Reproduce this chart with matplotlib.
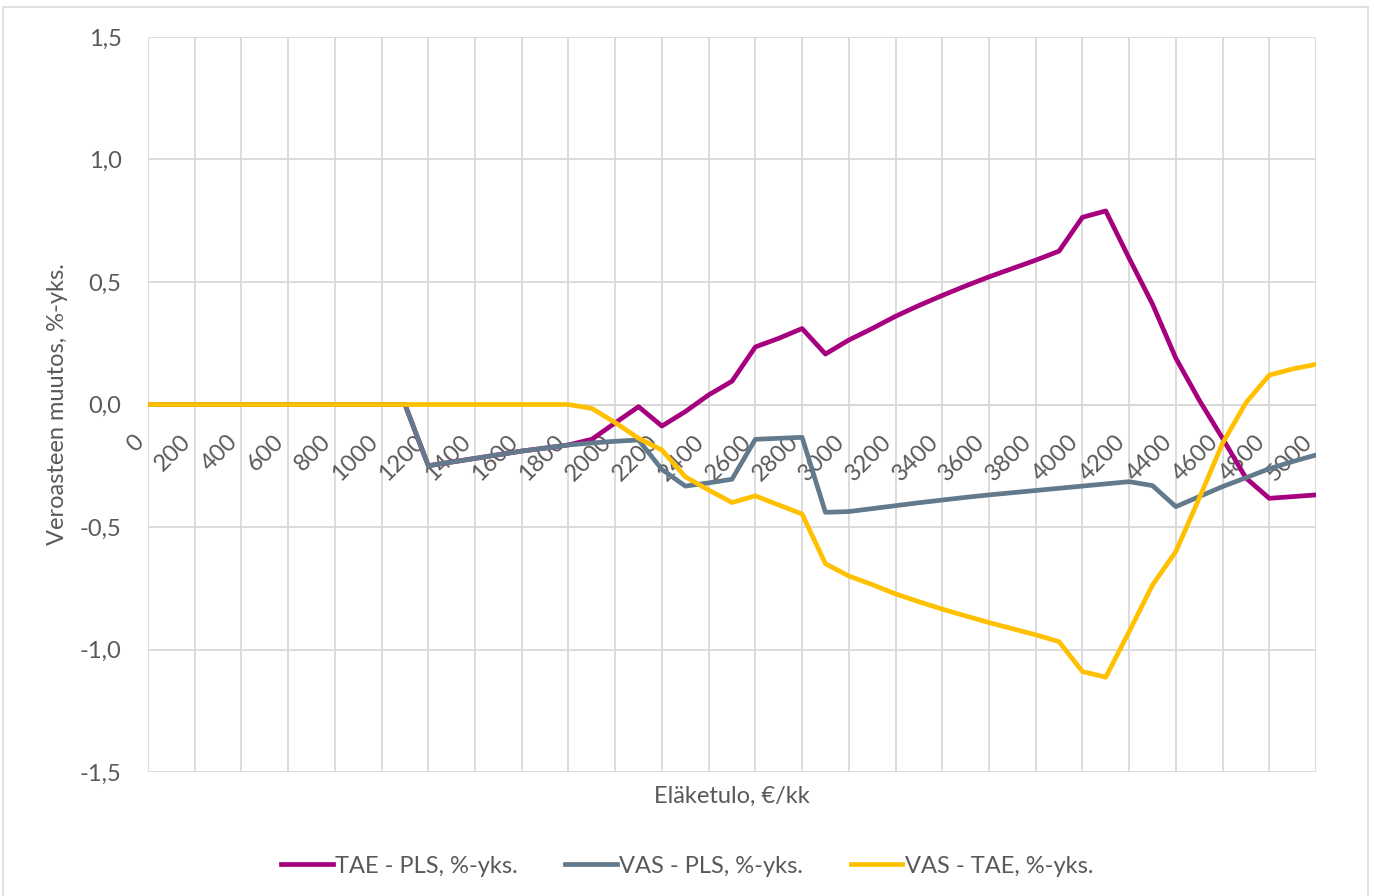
import matplotlib
matplotlib.use("Agg")
import matplotlib.pyplot as plt
from matplotlib.patches import Rectangle
from matplotlib.ticker import FuncFormatter

# eläketulo €/kk, 0..5000 step 100
income = list(range(0, 5001, 100))

tae_pls = [0.0] * 12 + [
    -0.25, -0.235, -0.22, -0.205, -0.19, -0.178, -0.165,          # 1200-1800
    -0.142, -0.075, -0.009, -0.088, -0.029, 0.039, 0.095,         # 1900-2500
    0.235, 0.27, 0.31, 0.206, 0.263, 0.31, 0.36, 0.404, 0.445,    # 2600-3400
    0.484, 0.521, 0.555, 0.589, 0.626, 0.764, 0.79, 0.597, 0.41,  # 3500-4300
    0.189, 0.018, -0.138, -0.30, -0.383, -0.376, -0.369,          # 4400-5000
]

vas_pls = [0.0] * 12 + [
    -0.25, -0.235, -0.22, -0.205, -0.19, -0.178, -0.165,
    -0.157, -0.15, -0.145, -0.265, -0.333, -0.32, -0.305,
    -0.142, -0.138, -0.134, -0.44, -0.437, -0.425, -0.413, -0.401, -0.39,
    -0.379, -0.369, -0.36, -0.351, -0.342, -0.333, -0.324, -0.315, -0.331,
    -0.417, -0.376, -0.335, -0.299, -0.262, -0.233, -0.206,
]

vas_tae = [0.0] * 19 + [
    -0.016, -0.074, -0.138, -0.186, -0.295, -0.349, -0.40,
    -0.373, -0.41, -0.447, -0.65, -0.70, -0.735, -0.773, -0.805, -0.835,
    -0.863, -0.89, -0.915, -0.94, -0.968, -1.09, -1.113, -0.927, -0.737,
    -0.60, -0.383, -0.158, 0.007, 0.12, 0.145, 0.164,
]

plt.rcParams["font.family"] = ["Lato", "DejaVu Sans"]
fs = 17

fig = plt.figure(figsize=(13.74, 8.96), dpi=100)
ax = fig.add_axes([148 / 1374, 1 - 772 / 896, 1168 / 1374, 735 / 896])

ax.plot(income, tae_pls, color="#A6007E", lw=3.4, label="TAE - PLS, %-yks.")
ax.plot(income, vas_pls, color="#627A8C", lw=3.4, label="VAS - PLS, %-yks.")
ax.plot(income, vas_tae, color="#FFC000", lw=3.4, label="VAS - TAE, %-yks.")

ax.set_xlim(0, 5000)
ax.set_ylim(-1.5, 1.5)
ax.set_xticks(range(0, 5001, 200))
ax.set_yticks([-1.5, -1.0, -0.5, 0.0, 0.5, 1.0, 1.5])
ax.yaxis.set_major_formatter(FuncFormatter(lambda v, p: f"{v:.1f}".replace(".", ",")))

ax.grid(True, color="#d9d9d9", lw=1.3)
ax.set_axisbelow(True)
for s in ["top", "right", "left"]:
    ax.spines[s].set_visible(False)
ax.spines["bottom"].set_position(("data", 0))
ax.spines["bottom"].set_color("#d9d9d9")
ax.spines["bottom"].set_linewidth(1.3)
ax.spines["bottom"].set_zorder(0.5)

ax.tick_params(axis="both", length=0, labelsize=fs, labelcolor="#595959")
ax.tick_params(axis="x", pad=19)
ax.tick_params(axis="y", pad=19)
for lab in ax.get_xticklabels():
    lab.set_rotation(45)
    lab.set_ha("right")
    lab.set_va("top")

fig.text(58 / 1374, 1 - 404 / 896, "Veroasteen muutos, %-yks.", rotation=90,
         ha="center", va="center", fontsize=fs, color="#595959")
fig.text(732 / 1374, 1 - 796 / 896, "Eläketulo, €/kk",
         ha="center", va="center", fontsize=fs, color="#595959")

fig.legend(loc="center", bbox_to_anchor=(0.5, 1 - 866 / 896), ncol=3, frameon=False,
           fontsize=fs, labelcolor="#595959", handlelength=2.2, handletextpad=0.1,
           columnspacing=2.0)

fig.patches.append(Rectangle((3 / 1374, -0.01), 1365 / 1374, 1 - 7 / 896 + 0.01,
                             transform=fig.transFigure, fill=False,
                             edgecolor="#d9d9d9", lw=1.2))

fig.savefig("out.png", dpi=100)
